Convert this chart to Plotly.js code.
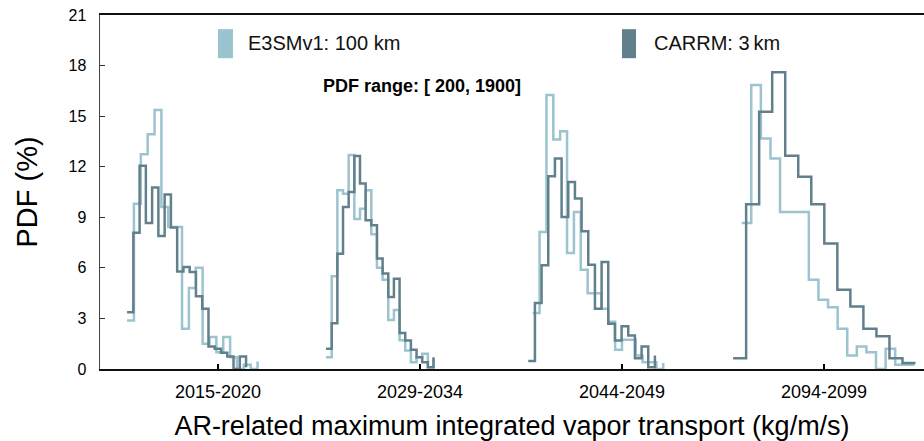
<!DOCTYPE html>
<html>
<head>
<meta charset="utf-8">
<script src="https://cdn.plot.ly/plotly-3.0.1.min.js"></script>
<style>html,body{margin:0;padding:0;background:#fff}#chart{width:924px;height:441px}</style>
</head>
<body>
<div id="chart"></div>
<script>
// ---- data (PDF in %, IVT bins in kg/m/s) ----
const periods = ["2015-2020", "2029-2034", "2044-2049", "2094-2099"];
const seriesNames = ["E3SMv1: 100 km", "CARRM: 3\u2009km"];

// first bin left edge and bin width (kg/m/s) per period
const e3smStart = [200, 170, 216, 285];
const e3smBinWidth = [68, 56, 68, 95];
const carrmStart = [200, 170, 172, 200];
const carrmBinWidth = [62, 56, 66, 129];

// E3SMv1 PDF values per bin
const e3sm2015 = [2.88, 9.81, 12.74, 13.93, 15.36, 9.61, 8.43, 8.43, 2.39, 4.8, 6.0, 1.5, 1.9, 1.0, 1.9, 0.7, 0, 0.25, 0, 0.45];
const e3sm2029 = [0.7, 5.5, 10.6, 10.4, 12.7, 8.9, 9.5, 10.6, 8.0, 6.0, 5.3, 2.9, 3.5, 1.7, 1.1, 0.4, 0.7, 0.9, 0.1, 0.6];
const e3sm2044 = [3.32, 8.13, 16.25, 13.62, 14.11, 6.88, 9.32, 5.89, 4.5, 4.5, 3.58, 2.8, 1.14, 1.73, 1.73, 0.8, 0.4, 0.4, 0, 0.35];
const e3sm2094 = [8.66, 16.85, 13.68, 12.49, 9.32, 9.32, 9.32, 5.3, 4.11, 3.67, 2.39, 0.8, 1.34, 1.0, 0, 1.2, 0.25, 0.25, 0.25];

// CARRM PDF values per bin
const carrm2015 = [3.37, 8.09, 12.05, 8.66, 10.77, 7.89, 10.35, 8.39, 5.79, 6.05, 5.75, 4.31, 3.58, 1.34, 1.2, 0.96, 0.74, 0, 0.74, 0.1];
const carrm2029 = [1.2, 2.72, 6.84, 9.61, 10.5, 12.63, 11.0, 8.82, 8.53, 6.55, 5.66, 4.27, 5.36, 2.13, 1.69, 1.14, 0.7, 0.4, 0.1, 0.7];
const carrm2044 = [0.47, 3.91, 6.15, 11.44, 12.49, 9.02, 11.1, 10.11, 8.17, 6.19, 3.58, 6.35, 2.69, 1.69, 2.53, 1.99, 0.64, 1.34, 0.1, 0.8];
const carrm2094 = [0.64, 9.77, 15.26, 17.6, 12.65, 11.4, 9.77, 7.44, 4.7, 3.71, 2.39, 1.95, 0.64, 0.35, 0.35];

const yTicks = [0, 3, 6, 9, 12, 15, 18, 21];

// ---- drawing ----
const e3smPdf = [e3sm2015, e3sm2029, e3sm2044, e3sm2094];
const carrmPdf = [carrm2015, carrm2029, carrm2044, carrm2094];
const groupShift = 2000;   // horizontal offset between period panels
const labelPos = 1100;     // where each period label sits inside its panel
const lightColor = "#9cc3d0";
const darkColor = "#62808b";

function stepTrace(start, width, vals, g, name, color) {
  return {
    type: "scatter", mode: "lines", name: name, showlegend: false,
    x: vals.map((v, i) => g * groupShift + start + i * width),
    y: vals,
    line: {shape: "hv", color: color, width: 2.5},
    hoverinfo: "x+y+name"
  };
}

const traces = [];
periods.forEach((p, g) => traces.push(stepTrace(e3smStart[g], e3smBinWidth[g], e3smPdf[g], g, seriesNames[0] + " " + p, lightColor)));
periods.forEach((p, g) => traces.push(stepTrace(carrmStart[g], carrmBinWidth[g], carrmPdf[g], g, seriesNames[1] + " " + p, darkColor)));

const font = "Liberation Sans, Arial, Helvetica, sans-serif";

const layout = {
  width: 924, height: 441,
  margin: {l: 100, r: 0, t: 15, b: 72, pad: 0},
  paper_bgcolor: "#fff", plot_bgcolor: "#fff",
  font: {family: font, color: "#000"},
  showlegend: false,
  xaxis: {
    range: [-68, 8090],
    tickvals: periods.map((p, g) => labelPos + g * groupShift),
    ticktext: periods,
    ticks: "inside", ticklen: 5, tickwidth: 1.2, tickcolor: "#000",
    tickfont: {size: 18, family: font, color: "#000"},
    ticklabelstandoff: 5,
    showline: true, linecolor: "#111", linewidth: 2, mirror: true,
    showgrid: false, zeroline: false,
    title: {text: "AR-related maximum integrated vapor transport (kg/m/s)", font: {size: 27, family: font, color: "#000"}, standoff: 19}
  },
  yaxis: {
    range: [0, 21],
    tickvals: yTicks,
    ticks: "inside", ticklen: 5, tickwidth: 1.2, tickcolor: "#333",
    tickfont: {size: 16, family: font, color: "#000"},
    ticklabelstandoff: 9,
    showline: true, linecolor: "#444", linewidth: 1.5,
    showgrid: false, zeroline: false,
    title: {text: "PDF (%)", font: {size: 29, family: font, color: "#000"}, standoff: 22}
  },
  shapes: [
    {type: "rect", xref: "paper", yref: "paper", x0: 0.1432, x1: 0.1614, y0: 0.878, y1: 0.960, fillcolor: lightColor, line: {width: 0}},
    {type: "rect", xref: "paper", yref: "paper", x0: 0.6335, x1: 0.6505, y0: 0.878, y1: 0.960, fillcolor: darkColor, line: {width: 0}}
  ],
  annotations: [
    {xref: "paper", yref: "paper", x: 0.1768, y: 0.921, xanchor: "left", yanchor: "middle", showarrow: false, text: seriesNames[0], font: {size: 20, family: font, color: "#111"}},
    {xref: "paper", yref: "paper", x: 0.6694, y: 0.921, xanchor: "left", yanchor: "middle", showarrow: false, text: seriesNames[1], font: {size: 20, family: font, color: "#111"}},
    {xref: "paper", yref: "paper", x: 0.3908, y: 0.800, xanchor: "center", yanchor: "middle", showarrow: false, text: "<b>PDF range: [ 200, 1900]</b>", font: {size: 18, family: font, color: "#000"}}
  ]
};

Plotly.newPlot("chart", traces, layout, {displayModeBar: false, staticPlot: true});
</script>
</body>
</html>
